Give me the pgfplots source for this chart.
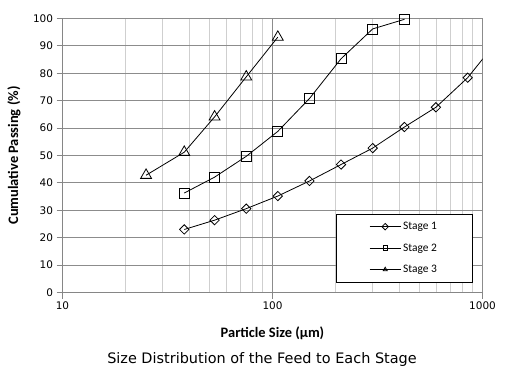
\documentclass[border=0pt]{standalone}
\usepackage{pgfplots}
\pgfplotsset{compat=1.18}
\usepackage{fontspec}
\setmainfont{DejaVu Sans}
\newfontfamily\carlito{Carlito}
\definecolor{majgrid}{HTML}{8C8C8C}
\definecolor{mingrid}{HTML}{CFCFCF}
\definecolor{axline}{HTML}{868686}
\begin{document}
\begin{tikzpicture}
\begin{semilogxaxis}[
  scale only axis,
  width=420bp, height=274bp,
  xmin=10, xmax=1000, ymin=0, ymax=100,
  xtick={10,100,1000}, xticklabels={10,100,1000},
  ytick={0,10,...,100},
  /pgf/number format/assume math mode=true,
  tick label style={font=\fontsize{10.5}{12}\selectfont},
  axis x line*=bottom, axis y line*=left,
  axis line style={draw=axline, line width=0.8bp},
  tick align=outside, major tick length=6bp, minor tick length=0pt,
  tick style={draw=axline, line width=0.8bp},
  grid=both,
  major grid style={draw=majgrid, line width=0.8bp},
  minor grid style={draw=mingrid, line width=0.8bp},
  xlabel={\carlito\bfseries Particle Size (µm)},
  ylabel={\carlito\bfseries Cumulative Passing (\%)},
  every axis x label/.style={at={(axis description cs:0.5,-0.148)}, anchor=center, font=\fontsize{14.5}{16}\selectfont},
  every axis y label/.style={at={(axis description cs:-0.1155,0.5)}, anchor=center, rotate=90, font=\fontsize{14.5}{16}\selectfont},
  legend style={at={(axis description cs:0.730,0.162)}, anchor=west,
    draw=none, fill=none, inner sep=0pt,
    nodes={inner sep=2bp},
    font=\carlito\fontsize{11.5}{13}\selectfont, row sep=8.5bp, cells={anchor=west}},
  legend cell align=left,
  legend image code/.code={\draw[mark repeat=2,mark phase=2,mark size=2.3bp] plot coordinates {(0bp,0bp)(15.5bp,0bp)(31bp,0bp)};},
]
\addplot[black, line width=0.8bp, mark=square, mark size=3.3bp, mark options={fill=white, solid, rotate=45}]
  coordinates {(38,23)(53,26.4)(75,30.6)(106,35.2)(150,40.7)(212,46.7)(300,52.7)(425,60.4)(600,67.6)(850,78.4)(1180,92)};
\addlegendentry{Stage 1}
\addplot[black, line width=0.8bp, mark=square, mark size=5bp, mark options={fill=white, solid}]
  coordinates {(38,36.3)(53,42.1)(75,49.7)(106,58.8)(150,70.8)(212,85.3)(300,96.2)(425,99.7)};
\addlegendentry{Stage 2}
\addplot[black, line width=0.8bp, mark=triangle, mark size=6.3bp, mark options={fill=white, solid}]
  coordinates {(25,42.8)(38,51.2)(53,64.1)(75,78.7)(106,93.2)};
\addlegendentry{Stage 3}
\draw[black, line width=0.8bp, fill=white] (axis description cs:0.651,0.038) rectangle (axis description cs:0.975,0.286);
\end{semilogxaxis}
\node[font=\fontsize{14.5}{16}\selectfont, anchor=center] at ([xshift=199.5bp,yshift=-67.5bp]current axis.south west) {Size Distribution of the Feed to Each Stage};
\path (current axis.south west) ++(-62.5bp,-93.5bp) coordinate (bbA);
\path (current axis.north east) ++(35.5bp,18.5bp) coordinate (bbB);
\path (bbA) rectangle (bbB);
\end{tikzpicture}
\end{document}
